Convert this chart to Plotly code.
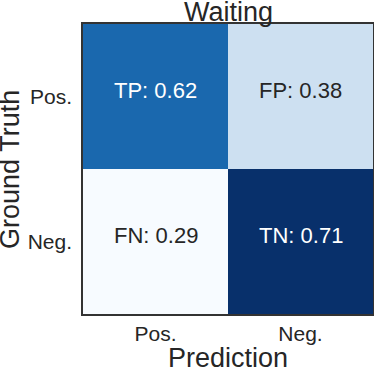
import plotly.graph_objects as go
import plotly.express as px

# confusion matrix values (rows = ground truth, cols = prediction)
truth = ["Pos.", "Neg."]
pred = ["Pos.", "Neg."]
rates = [[0.62, 0.38],
         [0.29, 0.71]]
names = [["TP", "FP"],
         ["FN", "TN"]]

blues = px.colors.sequential.Blues
font = "Liberation Sans, Arial, sans-serif"

fig = go.Figure()
fig.add_trace(go.Heatmap(z=rates, x=pred, y=truth, colorscale=blues,
                         showscale=False, hoverinfo="skip"))

zmin = min(min(r) for r in rates)
zmax = max(max(r) for r in rates)
mid = (zmin + zmax) / 2
for i, row in enumerate(rates):
    for j, v in enumerate(row):
        fig.add_annotation(x=pred[j], y=truth[i], text=f"{names[i][j]}: {v:.2f}",
                           showarrow=False, yshift=6,
                           font=dict(family=font, size=22,
                                     color="white" if v > mid else "#262626"))

# y axis title as a rotated annotation so it can sit right at the left edge
fig.add_annotation(text="Ground Truth", xref="paper", yref="paper", x=-0.252, y=0.5,
                   xanchor="center", yanchor="middle", textangle=-90, showarrow=False,
                   font=dict(family=font, size=27, color="#262626"))

fig.update_layout(
    width=374, height=373,
    margin=dict(l=83, r=1, t=24, b=59, autoexpand=False),
    paper_bgcolor="white", plot_bgcolor="white",
    font=dict(family=font, color="#262626"),
    title=dict(text="Waiting", x=0.611, xanchor="center", y=0.968, yanchor="middle",
               yref="container", font=dict(size=27, color="#262626"), automargin=False),
)
fig.update_xaxes(title=dict(text="Prediction", font=dict(size=27)),
                 tickfont=dict(size=21), showline=True, mirror=True, automargin=False,
                 linecolor="#333333", linewidth=1.5, ticks="", showgrid=False)
fig.update_yaxes(tickfont=dict(size=21), autorange="reversed", showline=True, mirror=True,
                 automargin=False, ticklabelstandoff=5,
                 linecolor="#333333", linewidth=1.5, ticks="", showgrid=False)

# page body has a default 8px margin; drop it so the figure sits at the corner
fig.write_html("out.html",
               config={"displayModeBar": False, "responsive": False},
               post_script="document.body.style.margin='0';document.body.style.overflow='hidden';")
